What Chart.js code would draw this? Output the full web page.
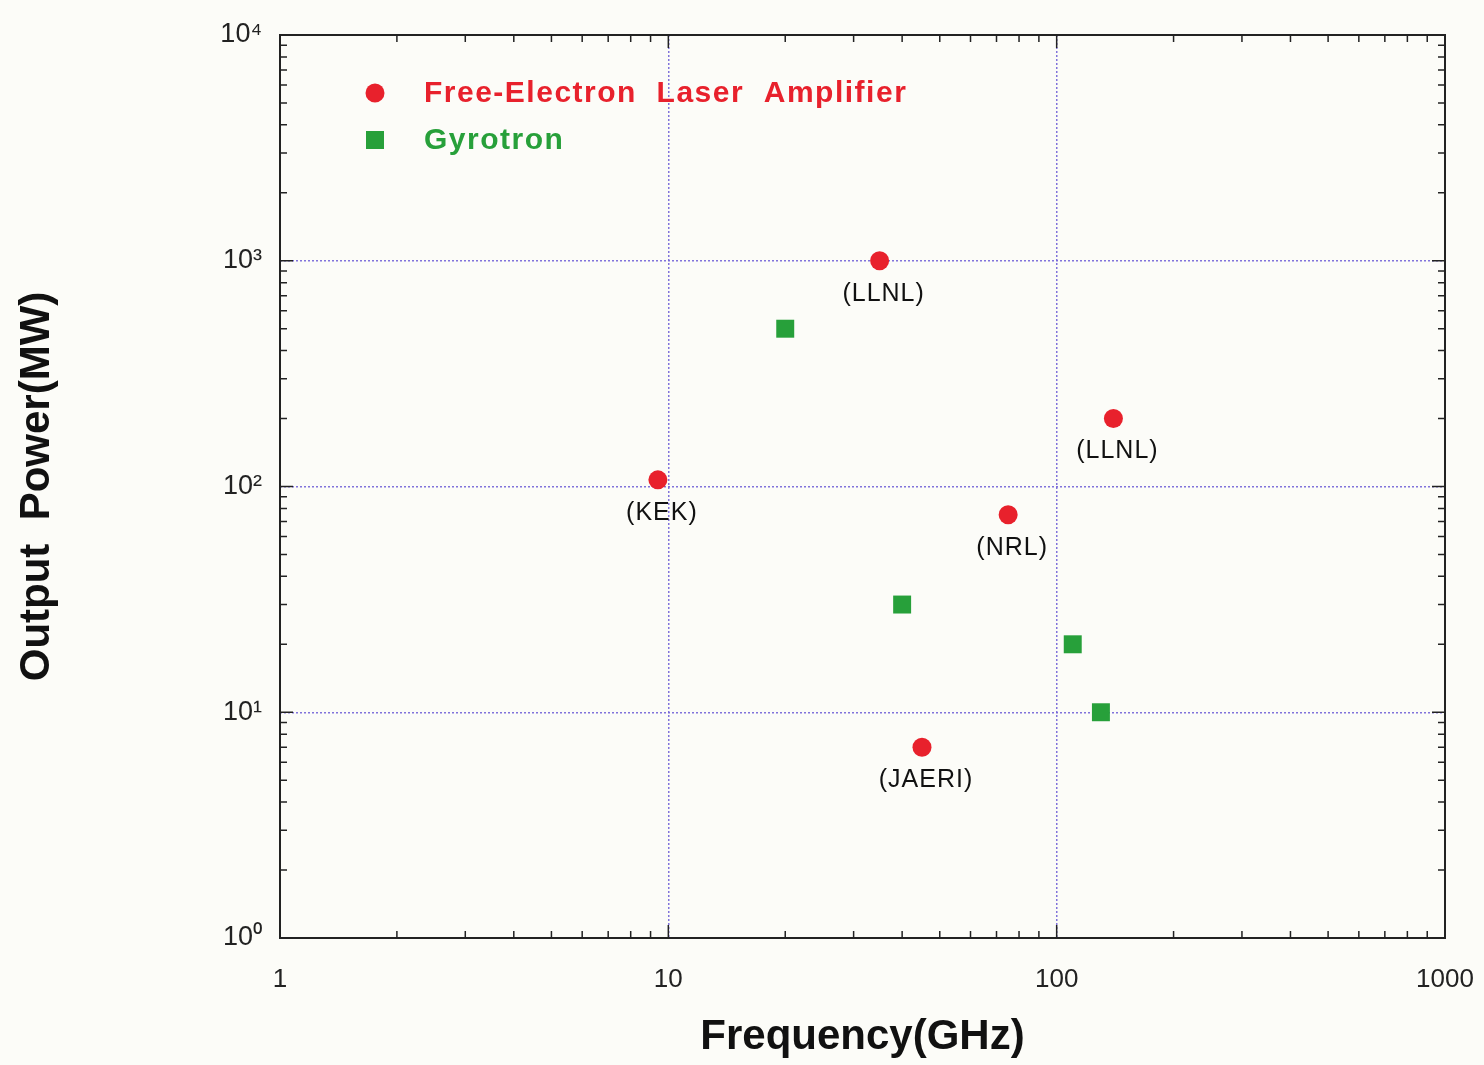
<!DOCTYPE html>
<html>
<head>
<meta charset="utf-8">
<script src="https://cdn.jsdelivr.net/npm/chart.js@4"></script>
<style>
  html, body { margin: 0; padding: 0; background: #fcfcf8; }
  #box { width: 1484px; height: 1065px; }
</style>
</head>
<body>
<div id="box"><canvas id="grafico"></canvas></div>
<script>
// dati
var felFreq  = [35, 9.4, 140, 75, 45];
var felPower = [1000, 107, 200, 75, 7];
var felLab   = ["(LLNL)", "(KEK)", "(LLNL)", "(NRL)", "(JAERI)"];

var gyroFreq  = [20, 40, 110, 130];
var gyroPower = [500, 30, 20, 10];

var xTicks = [1, 10, 100, 1000];
var yTicks = [1, 10, 100, 1000, 10000];
var sup = ["\u2070", "\u00b9", "\u00b2", "\u00b3", "\u2074"];

var ROSSO = "#e8212c";
var VERDE = "#27a03a";
var FONT = "'Liberation Sans', Arial, sans-serif";

function punti(xs, ys){
    let out = [];
    for(let i=0; i<xs.length; i++) out.push({x: xs[i], y: ys[i]});
    return out;
}

// sfondo + cornice con tacche interne
var cornice = {
    id: "cornice",
    beforeDraw(chart){
        let ctx = chart.ctx;
        ctx.save();
        ctx.fillStyle = "#fcfcf8";
        ctx.fillRect(0, 0, chart.width, chart.height);
        ctx.restore();
    },
    afterDatasetsDraw(chart){
        let ctx = chart.ctx, a = chart.chartArea;
        let sx = chart.scales.x, sy = chart.scales.y;
        ctx.save();
        ctx.strokeStyle = "#222";
        ctx.lineWidth = 2;
        ctx.strokeRect(a.left, a.top, a.right - a.left, a.bottom - a.top);
        ctx.lineWidth = 1.5;
        ctx.beginPath();
        // tacche asse x (sotto e sopra)
        for(let d=1; d<=100; d*=10){
            for(let m=1; m<=9; m++){
                let px = sx.getPixelForValue(d*m);
                let len = (m==1) ? 13 : 7;
                ctx.moveTo(px, a.bottom); ctx.lineTo(px, a.bottom - len);
                ctx.moveTo(px, a.top); ctx.lineTo(px, a.top + len);
            }
        }
        // tacche asse y (sinistra e destra)
        for(let d=1; d<=1000; d*=10){
            for(let m=1; m<=9; m++){
                let py = sy.getPixelForValue(d*m);
                let len = (m==1) ? 13 : 7;
                ctx.moveTo(a.left, py); ctx.lineTo(a.left + len, py);
                ctx.moveTo(a.right, py); ctx.lineTo(a.right - len, py);
            }
        }
        ctx.stroke();

        // etichette dei punti FEL
        ctx.fillStyle = "#111";
        ctx.font = "25px " + FONT;
        ctx.letterSpacing = "1px";
        ctx.textAlign = "center";
        ctx.textBaseline = "middle";
        let meta = chart.getDatasetMeta(0);
        for(let i=0; i<felLab.length; i++){
            let el = meta.data[i];
            ctx.fillText(felLab[i], el.x + 4, el.y + 33);
        }

        // legenda
        let lx = a.left + 95, ly = a.top + 58;
        ctx.fillStyle = ROSSO;
        ctx.beginPath(); ctx.arc(lx, ly, 9.5, 0, Math.PI*2); ctx.fill();
        ctx.fillStyle = VERDE;
        ctx.fillRect(lx - 9, ly + 47 - 9, 18, 18);
        ctx.font = "bold 30px " + FONT;
        ctx.letterSpacing = "1.5px";
        ctx.textAlign = "left";
        ctx.fillStyle = ROSSO;
        ctx.fillText(chart.data.datasets[0].label, lx + 49, ly + 1);
        ctx.fillStyle = VERDE;
        ctx.fillText(chart.data.datasets[1].label, lx + 49, ly + 48);
        ctx.restore();
    }
};

function griglia(ctx){
    if(ctx.type != "tick") return "rgba(0,0,0,0)";
    let n = ctx.chart.scales[ctx.scale.id].ticks.length;
    if(ctx.index == 0 || ctx.index == n - 1) return "rgba(0,0,0,0)";
    return "rgba(115,100,215,0.9)";
}

window.onload = function(){
    let canvas = document.getElementById("grafico");
    canvas.width = 1484; canvas.height = 1065;
    new Chart(canvas, {
        type: "scatter",
        data: {
            datasets: [{
                label: "Free-Electron  Laser  Amplifier",
                data: punti(felFreq, felPower),
                pointStyle: "circle",
                pointRadius: 9.5,
                pointHoverRadius: 9.5,
                backgroundColor: ROSSO,
                borderColor: ROSSO,
                borderWidth: 0
            }, {
                label: "Gyrotron",
                data: punti(gyroFreq, gyroPower),
                pointStyle: "rect",
                pointRadius: 12.7,
                pointHoverRadius: 12.7,
                backgroundColor: VERDE,
                borderColor: VERDE,
                borderWidth: 0
            }]
        },
        options: {
            responsive: false,
            animation: false,
            layout: { padding: { top: 35, right: 39, left: 0, bottom: 0 } },
            plugins: { legend: { display: false }, tooltip: { enabled: false } },
            scales: {
                x: {
                    type: "logarithmic",
                    min: 1, max: 1000,
                    afterBuildTicks(s){ s.ticks = xTicks.map(v => ({value: v})); },
                    afterFit(s){ s.height = 127; s.paddingLeft = 0; s.paddingRight = 0; },
                    border: { display: false, dash: [2, 2] },
                    grid: { drawTicks: false, color: griglia, lineWidth: 1.5 },
                    ticks: {
                        padding: 26,
                        color: "#222",
                        font: { family: FONT, size: 26 },
                        maxRotation: 0,
                        autoSkip: false,
                        callback: v => String(v)
                    },
                    title: {
                        display: true,
                        text: "Frequency(GHz)",
                        color: "#111",
                        font: { family: FONT, size: 42, weight: "bold" },
                        padding: { top: 0, bottom: 2 }
                    }
                },
                y: {
                    type: "logarithmic",
                    min: 1, max: 10000,
                    afterBuildTicks(s){ s.ticks = yTicks.map(v => ({value: v})); },
                    afterFit(s){ s.width = 280; s.paddingTop = 0; s.paddingBottom = 0; },
                    border: { display: false, dash: [2, 2] },
                    grid: { drawTicks: false, color: griglia, lineWidth: 1.5 },
                    ticks: {
                        padding: 18,
                        color: "#222",
                        font: { family: FONT, size: 27 },
                        autoSkip: false,
                        callback: v => "10" + sup[Math.round(Math.log10(v))]
                    },
                    title: {
                        display: true,
                        text: "Output  Power(MW)",
                        color: "#111",
                        font: { family: FONT, size: 42, weight: "bold" },
                        padding: { top: 12, bottom: 0 }
                    }
                }
            }
        },
        plugins: [cornice]
    });
};
</script>
</body>
</html>
